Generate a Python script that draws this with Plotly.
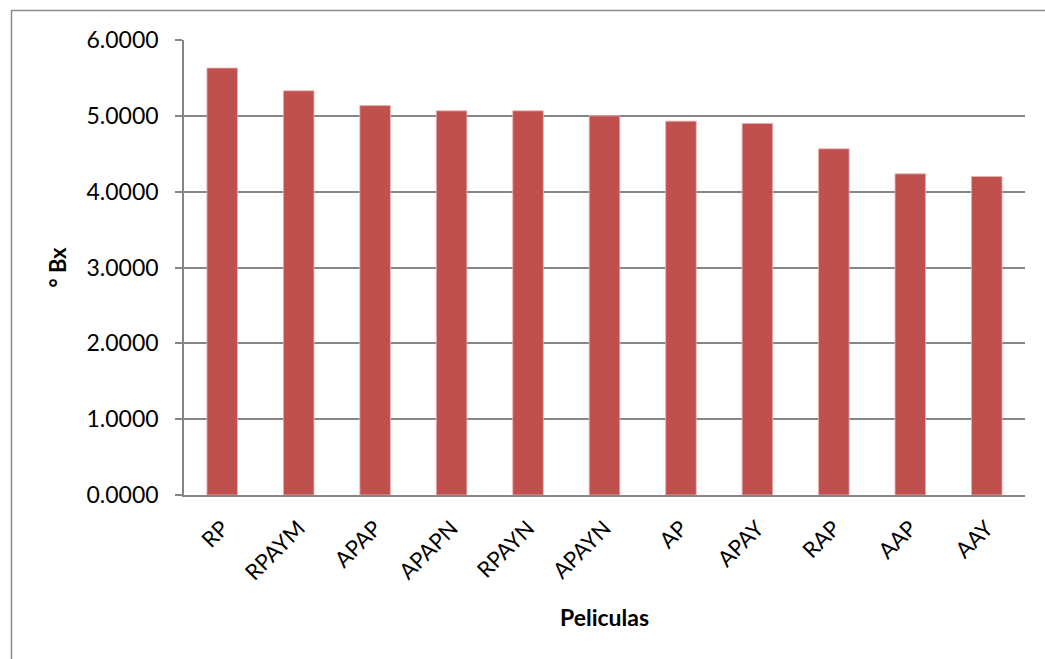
import plotly.graph_objects as go

categories = ["RP", "RPAYM", "APAP", "APAPN", "RPAYN", "APAYN", "AP", "APAY", "RAP", "AAP", "AAY"]
values = [5.63, 5.33, 5.135, 5.066, 5.066, 5.0, 4.93, 4.90, 4.565, 4.235, 4.20]
y_ticks = [0, 1, 2, 3, 4, 5, 6]
y_tick_labels = ["0.0000", "1.0000", "2.0000", "3.0000", "4.0000", "5.0000", "6.0000"]

W, H = 1045, 659
L, R, T, B = 184, 20, 40, 163.5
pw, ph = W - L - R, H - T - B

font_family = "Lato, 'Open Sans', sans-serif"

fig = go.Figure()
fig.add_trace(go.Bar(
    x=categories, y=values,
    marker=dict(color="#C0504D", line=dict(color="#E8B4B3", width=0.8)),
    width=0.4,
))

def px_to_paper_x(px):
    return (px - L) / pw

def px_to_paper_y(py):
    return (H - B - py) / ph

fig.add_shape(type="rect", xref="paper", yref="paper",
              x0=px_to_paper_x(11.5), x1=px_to_paper_x(1060),
              y0=px_to_paper_y(680), y1=px_to_paper_y(10.5),
              line=dict(color="#8C8C8C", width=1.5), layer="below")

fig.update_layout(
    width=W, height=H,
    margin=dict(l=L, r=R, t=T, b=B, pad=0),
    paper_bgcolor="white", plot_bgcolor="white",
    showlegend=False,
    bargap=0.6,
    font=dict(family=font_family, color="black"),
    xaxis=dict(
        tickangle=-45,
        tickfont=dict(size=22, family=font_family),
        ticklabelstandoff=10,
        showline=True, linecolor="#868686", linewidth=1.5,
        ticks="", showgrid=False,
        title=dict(text="<b>Peliculas</b>", font=dict(size=23, family=font_family), standoff=26),
    ),
    yaxis=dict(
        range=[0, 6],
        tickvals=y_ticks, ticktext=y_tick_labels,
        tickfont=dict(size=23, family=font_family),
        ticklabelstandoff=12,
        showline=True, linecolor="#868686", linewidth=1.5,
        ticks="outside", ticklen=7, tickcolor="#868686", tickwidth=1.5,
        showgrid=True, gridcolor="#868686", gridwidth=1.5,
        zeroline=False,
        title=dict(text="<b>° Bx</b>", font=dict(size=22, family=font_family), standoff=14),
    ),
)

fig.write_html("out.html")
